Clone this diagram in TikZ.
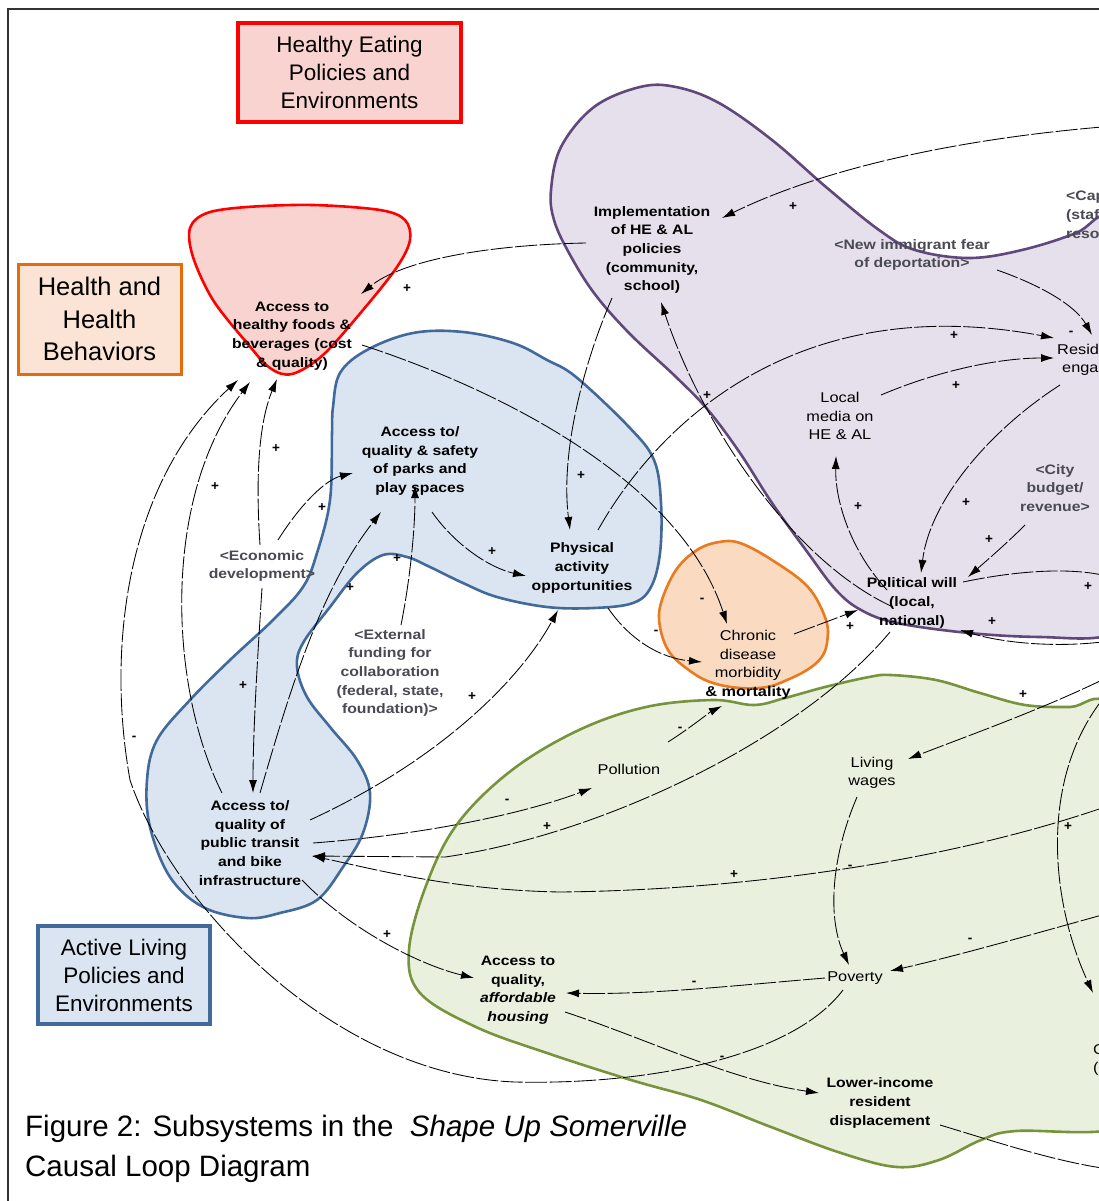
\documentclass[tikz,border=0pt]{standalone}
\usepackage{fontspec}
\setmainfont{Liberation Sans}
\newfontfamily\lblfont[FakeStretch=1.15]{Liberation Sans}
\usetikzlibrary{arrows.meta,calc}
\definecolor{redfill}{HTML}{F9D3D0}
\definecolor{redline}{HTML}{FF0000}
\definecolor{orfill}{HTML}{FBE4D5}
\definecolor{orline}{HTML}{E46C0A}
\definecolor{orblob}{HTML}{FADBC2}
\definecolor{orblobline}{HTML}{E97A1E}
\definecolor{purfill}{HTML}{E5E0EC}
\definecolor{purline}{HTML}{60497A}
\definecolor{blufill}{HTML}{DBE5F1}
\definecolor{bluline}{HTML}{41699A}
\definecolor{grnfill}{HTML}{EAF0DE}
\definecolor{grnline}{HTML}{77933C}
\definecolor{graytxt}{HTML}{4A4A52}
\definecolor{framecol}{HTML}{333333}
\begin{document}
\begin{tikzpicture}[x=1pt,y=-1pt,
  lbl/.style={font={\lblfont\bfseries\fontsize{13.7}{18.6}\selectfont},align=center,inner sep=0pt},
  lblr/.style={font={\lblfont\fontsize{14.2}{18.6}\selectfont},align=center,inner sep=0pt},
  glbl/.style={lbl,text=graytxt},
  sgn/.style={font={\bfseries\fontsize{13.5}{13.5}\selectfont},inner sep=0pt},
  conn/.style={line width=0.85pt,dash pattern=on 22pt off 2.5pt,-{Latex[length=13pt,width=8pt]}},
  plainconn/.style={line width=0.85pt,dash pattern=on 22pt off 2.5pt},
  blob/.style={line width=2.6pt},
  titlebox/.style={align=center,inner sep=0pt}
]
\useasboundingbox (0,0) rectangle (1099,1201);
\begin{scope}
\clip (0,0) rectangle (1099,1201);
\fill[white] (0,0) rectangle (1099,1201);
\draw[framecol,line width=1.6pt] (8,1210) -- (8,9) -- (1110,9);

% ---------- blobs ----------
\draw[blob,draw=purline,fill=purfill] plot[smooth cycle,tension=0.6] coordinates {
 (1110,215) (1076,233) (1022,250) (969,258) (915,250) (879,230) (826,187) (772,140)
 (719,103) (676,87) (640,87) (594,107) (561,147) (551,190) (554,220) (569,253)
 (594,293) (629,333) (676,377) (708,410) (740,453) (772,503) (808,553) (836,590)
 (861,610) (897,623) (969,633) (1040,637) (1110,635) (1160,600) (1160,250)};
\draw[blob,draw=grnline,fill=grnfill] plot[smooth cycle,tension=0.6] coordinates {
 (409,950) (427,883) (458,823) (512,770) (579,730) (646,707) (713,700) (754,705)
 (785,698) (825,687) (869,677) (891,675) (936,680) (980,693) (1025,705) (1070,707)
 (1110,705) (1160,800) (1160,1100) (1110,1130) (1016,1131) (981,1140) (939,1160)
 (897,1167) (841,1153) (771,1127) (701,1100) (631,1080) (547,1053) (476,1027) (420,993)};
\draw[blob,draw=bluline,fill=blufill] plot[smooth cycle,tension=0.6] coordinates {
 (333,407) (340,373) (367,350) (413,333) (463,332) (513,343) (547,360) (576,377)
 (629,427) (654,460) (661,503) (660,553) (651,587) (633,603) (594,608) (547,607)
 (497,597) (463,583) (430,567) (407,557) (383,555) (357,573) (330,607) (303,643)
 (297,667) (307,697) (330,727) (357,760) (370,793) (363,833) (343,867) (317,900)
 (280,913) (247,918) (203,907) (170,877) (150,827) (147,780) (157,740) (190,700)
 (230,660) (273,620) (303,587) (317,553) (330,500) (332,433)};
\draw[blob,draw=orblobline,fill=orblob] plot[smooth cycle,tension=0.6] coordinates {
 (661,603) (676,570) (697,550) (719,542) (740,543) (772,560) (808,587) (826,620)
 (827,643) (821,658) (807,670) (787,680) (767,687) (740,688) (713,683) (693,673)
 (670,653) (660,627)};
\draw[blob,draw=redline,fill=redfill] plot[smooth cycle,tension=0.55] coordinates {
 (207,213) (247,207) (313,205) (380,210) (405,220) (410,240) (397,267) (363,310)
 (323,355) (292,374) (270,368) (247,343) (213,300) (193,257) (190,228)};

% ---------- title boxes ----------
\node[titlebox,draw=redline,fill=redfill,line width=3.4pt,minimum width=223pt,minimum height=99pt,
  font={\fontsize{22.5}{28}\selectfont}] (hebox) at (349.5,72.5) {Healthy Eating\\Policies and\\Environments};
\node[titlebox,draw=orline,fill=orfill,line width=3pt,minimum width=163pt,minimum height=110pt,
  font={\fontsize{25.5}{32.5}\selectfont}] (hhbox) at (99.5,319) {Health and\\Health\\Behaviors};
\node[titlebox,draw=bluline,fill=blufill,line width=3.4pt,minimum width=172pt,minimum height=98pt,
  font={\fontsize{22.5}{28}\selectfont}] (albox) at (124,975) {Active Living\\Policies and\\Environments};

% ---------- variable nodes ----------
\node[lbl] (foods) at (292,336) {Access to\\healthy foods \&\\beverages (cost\\\& quality)};
\node[lbl] (impl) at (652,250) {Implementation\\of HE \& AL\\policies\\(community,\\school)};
\node[lbl] (parks) at (420,461) {Access to/\\quality \& safety\\of parks and\\play spaces};
\node[lbl] (phys) at (582,568) {Physical\\activity\\opportunities};
\node[lblr] (chronic) at (748,665) {Chronic\\disease\\morbidity\\\textbf{\& mortality}};
\node[lblr] (media) at (840,416) {Local\\media on\\HE \& AL};
\node[lbl] (polwill) at (912,603) {Political will\\(local,\\national)};
\node[lblr,anchor=west,align=left] (resid) at (1057,360) {Resident\\\hspace*{5pt}engagement};
\node[glbl,anchor=west,align=left] (capac) at (1066,216) {<Capacity\\(staff,\\resources)>};
\node[glbl] (newimm) at (912,255) {<New immigrant fear\\of deportation>};
\node[glbl] (budget) at (1055,488) {<City\\budget/\\revenue>};
\node[glbl] (econ) at (262,566) {<Economic\\development>};
\node[glbl] (extfund) at (390,673) {<External\\funding for\\collaboration\\(federal, state,\\foundation)>};
\node[lbl] (transit) at (250,843) {Access to/\\quality of\\public transit\\and bike\\infrastructure};
\node[lblr] (pollution) at (629,769) {Pollution};
\node[lblr] (wages) at (872,773) {Living\\wages};
\node[lblr] (poverty) at (855,978) {Poverty};
\node[lbl] (housing) at (518,990) {Access to\\quality,\\\textit{affordable}\\\textit{housing}};
\node[lbl] (displ) at (880,1103) {Lower-income\\resident\\displacement};
\node[lblr,anchor=west,align=left] (costliv) at (1093,1060) {Cost of\\(housing)};

% ---------- free ends at the picture edge ----------
\coordinate (e1) at (1102,127);
\coordinate (e11) at (1102,575);
\coordinate (e12) at (1102,642);
\coordinate (e30) at (1102,1168);
\coordinate (e31) at (1102,680);
\coordinate (e32) at (1102,915);
\coordinate (e33) at (1102,808);
\coordinate (e35) at (1102,700);

% ---------- connectors ----------
\draw[conn] (e1) .. controls (950,140) and (820,170) .. ($(impl)+(70,-32)$);
\draw[conn] ($(impl)+(-66,-7)$) .. controls (480,245) and (400,262) .. ($(foods)+(69,-42)$);
\draw[conn] ($(foods)+(70,9)$) .. controls (500,390) and (680,480) .. ($(chronic)+(-21,-41)$);
\draw[conn] ($(impl)+(-40,48)$) .. controls (585,360) and (560,450) .. ($(phys)+(-12,-38)$);
\draw[conn] ($(phys)+(16,-38)$) .. controls (660,420) and (800,290) .. ($(resid.west)+(-3,-22)$);
\draw[conn] ($(media)+(41,-21)$) .. controls (940,370) and (1000,358) .. ($(resid.west)+(-3,-2)$);
\draw[conn] ($(polwill)+(-25,-13)$) .. controls (850,550) and (835,500) .. ($(media)+(-4,40)$);
\draw[conn] ($(resid.west)+(3,25)$) .. controls (990,430) and (930,500) .. ($(polwill)+(9,-30)$);
\draw[conn] ($(budget)+(-30,37)$) .. controls (1005,545) and (985,562) .. ($(polwill)+(56,-26)$);
\draw[conn] ($(newimm)+(85,15)$) .. controls (1040,285) and (1075,305) .. ($(resid.west)+(35,-25)$);
\draw[plainconn] ($(polwill)+(51,-21)$) .. controls (1020,570) and (1070,568) .. (e11);
\draw[conn] (e12) .. controls (1050,648) and (1000,642) .. ($(polwill)+(48,27)$);
\draw[conn] ($(chronic)+(46,-31)$) -- ($(polwill)+(-54,7)$);
\draw[conn] ($(phys)+(26,40)$) .. controls (630,640) and (660,658) .. ($(chronic)+(-46,-3)$);
\draw[conn] ($(parks)+(12,51)$) .. controls (455,545) and (490,568) .. ($(phys)+(-56,8)$);
\draw[conn] ($(pollution)+(39,-27)$) .. controls (690,728) and (710,712) .. ($(chronic)+(-26,41)$);
\draw[conn] ($(transit)+(63,0)$) .. controls (420,835) and (520,815) .. ($(pollution)+(-37,19)$);
\draw[conn] ($(transit)+(60,-23)$) .. controls (440,760) and (520,680) .. ($(phys)+(-24,42)$);
\draw[conn] ($(transit)+(10,-50)$) .. controls (290,690) and (320,590) .. ($(parks)+(-39,51)$);
\draw[conn] ($(extfund)+(11,-48)$) .. controls (410,580) and (415,530) .. ($(parks)+(-5,24)$);
\draw[conn] ($(econ)+(0,22)$) .. controls (256,680) and (253,740) .. ($(transit)+(3,-50)$);
\draw[conn] ($(econ)+(-2,-21)$) .. controls (255,470) and (260,420) .. ($(foods)+(-15,43)$);
\draw[conn] ($(econ)+(16,-26)$) .. controls (300,505) and (325,480) .. ($(parks)+(-67,12)$);
\draw[conn] ($(transit)+(-28,-50)$) .. controls (170,690) and (160,500) .. ($(foods)+(-42,46)$);
\draw[conn] ($(poverty)+(-12,12)$) .. controls (790,1060) and (640,1085) .. (515,1082)
   .. controls (330,1075) and (170,900) .. (130,780)
   .. controls (105,640) and (130,480) .. ($(foods)+(-54,44)$);
\draw[conn] ($(transit)+(52,37)$) .. controls (350,930) and (420,965) .. ($(housing)+(-44,-12)$);
\draw[conn] ($(poverty)+(-30,0)$) .. controls (740,985) and (650,995) .. ($(housing)+(48,3)$);
\draw[conn] ($(wages)+(-15,24)$) .. controls (830,860) and (828,920) .. ($(poverty)+(-6,-13)$);
\draw[conn] ($(housing)+(47,22)$) .. controls (650,1040) and (730,1080) .. ($(displ)+(-61,-10)$);
\draw[plainconn] ($(displ)+(60,22)$) .. controls (990,1140) and (1050,1160) .. (e30);
\draw[conn] (e31) .. controls (1040,710) and (970,735) .. ($(wages)+(36,-14)$);
\draw[conn] (e32) .. controls (1030,935) and (960,955) .. ($(poverty)+(35,-7)$);
\draw[conn] (e33) .. controls (950,860) and (750,890) .. (560,892)
   .. controls (450,890) and (370,868) .. ($(transit)+(62,13)$);
\draw[conn] ($(polwill)+(-22,29)$) .. controls (800,740) and (600,835) .. (445,857) -- ($(transit)+(62,13)$);
\draw[conn] (e35) .. controls (1040,780) and (1050,900) .. ($(costliv.west)+(0,-67)$);
\draw[conn] ($(polwill)+(-19,4)$) .. controls (790,560) and (700,420) .. ($(impl)+(9,52)$);

% ---------- polarity signs ----------
\node[sgn] (s1) at (793,207) {+};
\node[sgn] (s2) at (407,289) {+};
\node[sgn] (s3) at (702,600) {-};
\node[sgn] (s4) at (581,476) {+};
\node[sgn] (s5) at (707,396) {+};
\node[sgn] (s6) at (954,336) {+};
\node[sgn] (s7) at (956,386) {+};
\node[sgn] (s8) at (858,507) {+};
\node[sgn] (s9) at (966,503) {+};
\node[sgn] (s10) at (989,540) {+};
\node[sgn] (s11) at (1071,333) {-};
\node[sgn] (s12) at (1088,587) {+};
\node[sgn] (s13) at (992,622) {+};
\node[sgn] (s14) at (850,627) {+};
\node[sgn] (s15) at (656,632) {-};
\node[sgn] (s16) at (492,552) {+};
\node[sgn] (s17) at (680,729) {-};
\node[sgn] (s18) at (507,801) {-};
\node[sgn] (s19) at (472,697) {+};
\node[sgn] (s20) at (350,588) {+};
\node[sgn] (s21) at (397,559) {+};
\node[sgn] (s22) at (243,686) {+};
\node[sgn] (s23) at (276,449) {+};
\node[sgn] (s24) at (322,508) {+};
\node[sgn] (s25) at (215,487) {+};
\node[sgn] (s26) at (134,738) {-};
\node[sgn] (s27) at (722,1058) {-};
\node[sgn] (s28) at (387,935) {+};
\node[sgn] (s29) at (694,983) {-};
\node[sgn] (s30) at (850,867) {-};
\node[sgn] (s31) at (1023,695) {+};
\node[sgn] (s32) at (970,940) {-};
\node[sgn] (s33) at (734,875) {+};
\node[sgn] (s34) at (1068,827) {+};
\node[sgn] (s35) at (547,827) {+};

% ---------- caption ----------
\node[anchor=west,align=left,inner sep=0pt,font={\fontsize{29.5}{40}\selectfont}] (caption) at (25,1149)
  {Figure 2: Subsystems in the \ \textit{Shape Up Somerville}\\Causal Loop Diagram};
\end{scope}
\end{tikzpicture}
\end{document}
